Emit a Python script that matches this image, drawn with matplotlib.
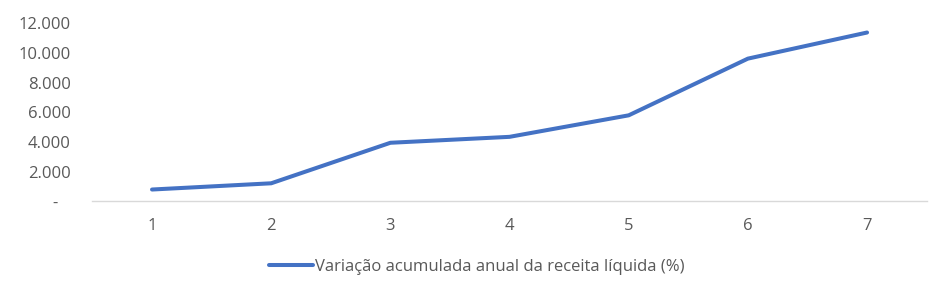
import matplotlib
matplotlib.use("Agg")
import matplotlib.pyplot as plt
from matplotlib.ticker import FixedLocator, FixedFormatter

categories = [1, 2, 3, 4, 5, 6, 7]
values = [800, 1220, 3950, 4350, 5800, 9620, 11380]
ytick_values = [0, 2000, 4000, 6000, 8000, 10000, 12000]
ytick_labels = ["-   ", "2.000", "4.000", "6.000", "8.000", "10.000", "12.000"]
series_name = "Variação acumulada anual da receita líquida (%)"

plt.rcParams['font.family'] = ['Open Sans', 'DejaVu Sans']
text_color = "#595959"

fig = plt.figure(figsize=(9.5, 2.97), dpi=100)
ax = fig.add_axes([0.0973, 0.3219, 0.9754 - 0.0973, 0.9215 - 0.3219])

ax.plot(categories, values, color="#4472C4", linewidth=2.9,
        solid_capstyle="round", solid_joinstyle="round", label=series_name)

ax.set_xlim(0.5, 7.5)
ax.set_ylim(0, 12000)
ax.xaxis.set_major_locator(FixedLocator(categories))
ax.xaxis.set_major_formatter(FixedFormatter([str(c) for c in categories]))
ax.yaxis.set_major_locator(FixedLocator(ytick_values))
ax.yaxis.set_major_formatter(FixedFormatter(ytick_labels))

for s in ["top", "right", "left"]:
    ax.spines[s].set_visible(False)
ax.spines["bottom"].set_color("#D9D9D9")
ax.spines["bottom"].set_linewidth(1.0)

ax.tick_params(axis="both", length=0, labelsize=12, colors=text_color)
ax.tick_params(axis="y", pad=15.5)
ax.tick_params(axis="x", pad=12)

handles, labels = ax.get_legend_handles_labels()
fig.legend(handles, labels, loc="center", bbox_to_anchor=(0.502, 0.102),
           frameon=False, fontsize=12, handlelength=2.6, handletextpad=0.15,
           labelcolor=text_color)

fig.savefig("out.png", dpi=100)
